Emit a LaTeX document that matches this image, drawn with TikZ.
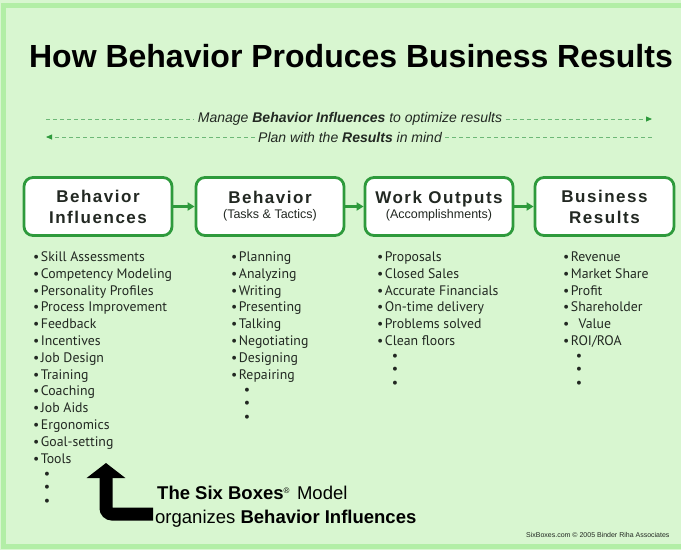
\documentclass[tikz,border=0pt]{standalone}
\usepackage{fontspec}
\setmainfont{Liberation Sans}
\newfontfamily\listfont{PT Sans}
\newfontfamily\boxfont[LetterSpace=9]{Liberation Sans}
\usetikzlibrary{arrows.meta}
\definecolor{bg}{HTML}{D8F6D0}
\definecolor{edge}{HTML}{B2EEA6}
\definecolor{boxgreen}{HTML}{2E9A3C}
\definecolor{ink}{HTML}{222822}

\tikzset{
  stage/.style={draw=boxgreen, line width=2.8pt, fill=white, rounded corners=9pt,
    minimum width=148pt, minimum height=58pt, inner sep=0pt, align=center, text=ink},
  bigname/.style={font=\boxfont\bfseries\fontsize{17}{21}\selectfont},
  subname/.style={font=\fontsize{12.5}{14}\selectfont},
  flow/.style={-{Triangle[length=7pt,width=8pt]}, boxgreen, line width=2.2pt},
  guide/.style={boxgreen!70!white, dash pattern=on 4pt off 3pt, line width=0.8pt},
  guidetip/.style={-{Triangle[length=6pt,width=5pt,color=boxgreen]}},
  item/.style={anchor=base west, inner sep=0pt, text=ink, font=\listfont\fontsize{13.8}{13.8}\selectfont},
  more/.style={inner sep=0pt, text=ink, font=\listfont\fontsize{14}{14}\selectfont},
}
\newcommand{\bul}{•\kern1.5pt}

\begin{document}
\begin{tikzpicture}[x=1pt,y=-1pt]
\useasboundingbox (0,0) rectangle (681,550);
\fill[bg] (0,0) rectangle (681,550);
\draw[edge, line width=5pt] (3,5.5) rectangle (700,546);

% title
\node[font=\bfseries\fontsize{32}{32}\selectfont] (title) at (351,56) {How Behavior Produces Business Results};

% the two guide lines
\node[text=ink, font=\itshape\fontsize{14}{14}\selectfont] (manage) at (350,119)
  {Manage \textbf{Behavior Influences} to optimize results};
\node[text=ink, font=\itshape\fontsize{14}{14}\selectfont] (plan) at (350,137)
  {Plan with the \textbf{Results} in mind};
\coordinate (m-l) at (46,119);
\coordinate (m-r) at (652,119);
\coordinate (p-l) at (46,137);
\coordinate (p-r) at (652,137);
\draw[guide] (m-l) -- (manage.west);
\draw[guide, guidetip] (manage.east) -- (m-r);
\draw[guide, guidetip] (plan.west) -- (p-l);
\draw[guide] (plan.east) -- (p-r);

% the four boxes
\node[stage, bigname] (infl) at (98,206.5) {Behavior\\Influences};
\node[stage, subname] (beh) at (270,206.5) {{\boxfont\bfseries\fontsize{17}{17}\selectfont Behavior}\\[1pt]
  (Tasks \& Tactics)};
\node[stage, subname] (work) at (439,206.5) {{\boxfont\bfseries\fontsize{17}{17}\selectfont Work Outputs}\\[1pt]
  (Accomplishments)};
\node[stage, bigname, minimum width=139pt] (res) at (604.5,206.5) {Business\\Results};
\draw[flow] (infl) -- (beh);
\draw[flow] (beh) -- (work);
\draw[flow] (work) -- (res);

% lists
\foreach \t [count=\i] in {Skill Assessments, Competency Modeling, Personality Profiles,
  Process Improvement, Feedback, Incentives, Job Design, Training, Coaching, Job Aids,
  Ergonomics, Goal-setting, Tools}
  \node[item] (infl-\i) at (33,{261.5+(\i-1)*16.8}) {\bul\t};
\foreach \t [count=\i] in {Planning, Analyzing, Writing, Presenting, Talking, Negotiating,
  Designing, Repairing}
  \node[item] (beh-\i) at (231,{261.5+(\i-1)*16.8}) {\bul\t};
\foreach \t [count=\i] in {Proposals, Closed Sales, Accurate Financials, On-time delivery,
  Problems solved, Clean floors}
  \node[item] (work-\i) at (377,{261.5+(\i-1)*16.8}) {\bul\t};
\foreach \t [count=\i] in {Revenue, Market Share, Profit, Shareholder, \phantom{\bul}Value, ROI/ROA}
  \node[item] (res-\i) at (563,{261.5+(\i-1)*16.8}) {\bul\t};

% and so on
\foreach \d [count=\i] in {0,13.3,26.6} {
  \node[more] (infl-more-\i) at (47,475.5+\d) {•};
  \node[more] (beh-more-\i) at (247,391.5+\d) {•};
  \node[more] (work-more-\i) at (395,357.5+\d) {•};
  \node[more] (res-more-\i) at (579,357.5+\d) {•};
}

% the big arrow and its note
\node[anchor=base west, inner sep=0pt, font=\fontsize{18.5}{18.5}\selectfont] (six) at (157,499.5)
  {\textbf{The Six Boxes}\textsuperscript{\fontsize{8}{8}\selectfont ®}\hspace{7pt}Model};
\node[anchor=base west, inner sep=0pt, font=\fontsize{18.5}{18.5}\selectfont] (orgs) at (155,523.5)
  {organizes \textbf{Behavior Influences}};
\coordinate (tail) at (153,514);
\coordinate (tip) at (106,463);
\draw[line width=13pt, rounded corners=6pt, -{Triangle[length=15pt,width=38pt]}] (tail) -| (tip);

\node[anchor=east, text=ink, font=\fontsize{7}{7}\selectfont] (credit) at (673,535)
  {SixBoxes.com © 2005 Binder Riha Associates};
\end{tikzpicture}
\end{document}
